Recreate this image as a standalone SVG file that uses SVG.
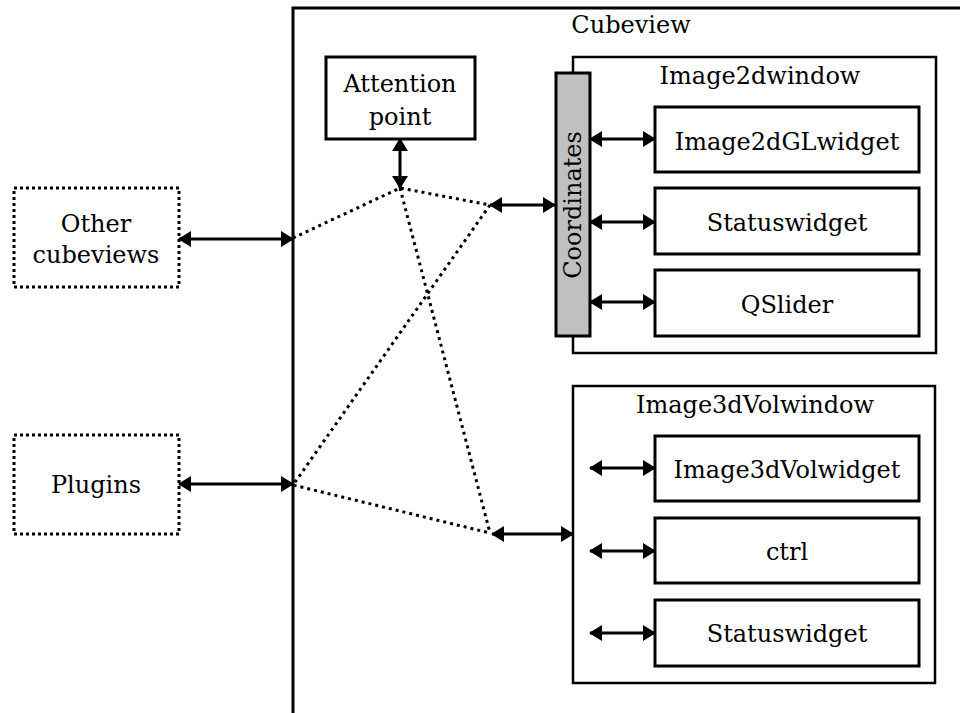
<svg xmlns="http://www.w3.org/2000/svg" width="960" height="713" viewBox="0 0 960 713">
<style>
.box{fill:#fff;stroke:#000;stroke-width:3}
.thin{fill:#fff;stroke:#000;stroke-width:2.5}
.dash{fill:#fff;stroke:#000;stroke-width:3;stroke-dasharray:3 3}
.coord{fill:#c0c0c0;stroke:#000;stroke-width:3}
.t{font-family:"DejaVu Serif","Liberation Serif",serif;font-size:24px;fill:#000;text-anchor:middle}
.arr{stroke:#000;stroke-width:3;fill:none;marker-start:url(#ah);marker-end:url(#ah)}
.dot{stroke:#000;stroke-width:3;fill:none;stroke-dasharray:3 4}
</style>
<defs>
<marker id="ah" viewBox="0 0 13 16" refX="12" refY="8" markerWidth="4.5" markerHeight="5.5" markerUnits="strokeWidth" orient="auto-start-reverse">
<path d="M0,0 L13,8 L0,16 z" fill="#000"/>
</marker>
</defs>
<rect width="960" height="713" fill="#fff"/>
<g id="cubeview">
<rect x="293" y="8" width="700" height="720" class="box"/>
<text x="631" y="33" class="t">Cubeview</text>
</g>
<g id="attention-point">
<rect x="326" y="57" width="149" height="82" class="box"/>
<text x="400" y="92" class="t">Attention</text>
<text x="400" y="125" class="t">point</text>
</g>
<g id="other-cubeviews">
<rect x="14" y="188" width="165" height="99" class="dash"/>
<text x="96" y="232" class="t">Other</text>
<text x="96" y="263" class="t">cubeviews</text>
</g>
<g id="plugins">
<rect x="14" y="435" width="165" height="99" class="dash"/>
<text x="96" y="493" class="t">Plugins</text>
</g>
<g id="image2dwindow">
<rect x="573" y="57" width="363" height="296" class="thin"/>
<text x="760" y="84" class="t">Image2dwindow</text>
</g>
<g id="coordinates">
<rect x="556" y="73" width="34" height="263" class="coord"/>
<text x="0" y="0" class="t" transform="translate(581,205) rotate(-90)">Coordinates</text>
</g>
<g id="image2dglwidget">
<rect x="655" y="107" width="264" height="65" class="box"/>
<text x="787" y="150" class="t">Image2dGLwidget</text>
</g>
<g id="statuswidget-2d">
<rect x="655" y="188" width="264" height="66" class="box"/>
<text x="787" y="231" class="t">Statuswidget</text>
</g>
<g id="qslider">
<rect x="655" y="270" width="264" height="66" class="box"/>
<text x="787" y="313" class="t">QSlider</text>
</g>
<g id="image3dvolwindow">
<rect x="573" y="386" width="362" height="297" class="thin"/>
<text x="755" y="413" class="t">Image3dVolwindow</text>
</g>
<g id="image3dvolwidget">
<rect x="655" y="436" width="264" height="65" class="box"/>
<text x="787" y="478" class="t">Image3dVolwidget</text>
</g>
<g id="ctrl">
<rect x="655" y="518" width="264" height="65" class="box"/>
<text x="787" y="560" class="t">ctrl</text>
</g>
<g id="statuswidget-3d">
<rect x="655" y="600" width="264" height="66" class="box"/>
<text x="787" y="642" class="t">Statuswidget</text>
</g>
<g id="connectors">
<path class="dot" d="M293,238 L400,188 L490,205 M400,188 L490,533 M490,205 L293,485 L490,533"/>
<path class="arr" d="M400,139 L400,188"/>
<path class="arr" d="M179,239 L293,239"/>
<path class="arr" d="M179,484 L293,484"/>
<path class="arr" d="M490,205 L555,205"/>
<path class="arr" d="M492,534 L573,534"/>
<path class="arr" d="M590,139 L655,139"/>
<path class="arr" d="M590,222 L655,222"/>
<path class="arr" d="M590,302 L655,302"/>
<path class="arr" d="M590,468 L655,468"/>
<path class="arr" d="M590,551 L655,551"/>
<path class="arr" d="M590,633 L655,633"/>
</g>
</svg>
